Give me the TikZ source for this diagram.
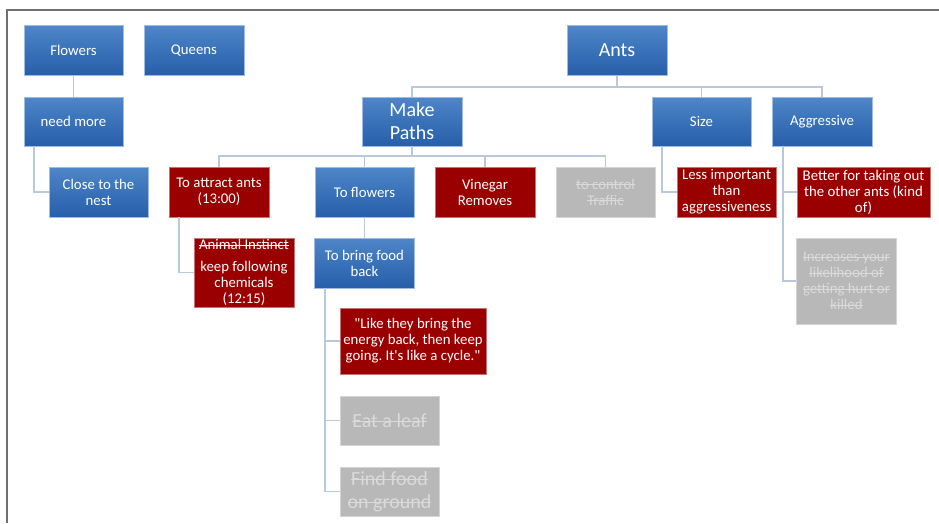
\documentclass[tikz,border=0pt]{standalone}
\usepackage{fontspec}
\setmainfont{Carlito}[Ligatures=TeXOff]
\frenchspacing

% struck-through text
\newsavebox\strkbox
\newcommand\strk[1]{\sbox\strkbox{#1}\rlap{\rule[0.25em]{\wd\strkbox}{0.9pt}}\usebox\strkbox}

\definecolor{bluetop}{RGB}{78,134,200}
\definecolor{bluebot}{RGB}{38,94,170}
\definecolor{redfill}{RGB}{155,0,0}
\definecolor{grayfill}{RGB}{184,184,184}
\definecolor{graytext}{RGB}{218,218,218}
\definecolor{linkcol}{RGB}{184,201,222}
\definecolor{framecol}{RGB}{112,112,112}

\tikzset{
  sz/.style 2 args={minimum width=#1pt, minimum height=#2pt},
  box/.style={rectangle, inner sep=1pt, align=center,
              font=\fontsize{14.8}{16}\selectfont},
  bluebox/.style={box, top color=bluetop, bottom color=bluebot,
                  draw=bluetop!55!white, line width=0.6pt, text=white},
  redbox/.style={box, fill=redfill, draw=redfill!55!white,
                 line width=0.6pt, text=white},
  graybox/.style={box, fill=grayfill, draw=grayfill!60!white,
                  line width=0.6pt, text=graytext},
  bigtext/.style={font=\fontsize{20}{23}\selectfont},
  link/.style={draw=linkcol, line width=1.8pt},
}

\begin{document}
\begin{tikzpicture}[x=1pt, y=-1pt]
  \useasboundingbox (0,0) rectangle (939,523);

  % frame
  \draw[framecol, line width=1.5pt] (7,523) -- (7,10) -- (939,10);

  % boxes
  \node[bluebox, sz={99}{50}] (flowers) at (73.5,50.5) {Flowers};
  \node[bluebox, sz={100}{50}] (queens) at (194,50.5) {Queens};
  \node[bluebox, sz={99}{49}] (needmore) at (73.5,121.5) {need more};
  \node[bluebox, sz={99}{50}] (close) at (98.5,192) {Close to the\\nest};

  \node[bluebox, bigtext, sz={100}{50}] (ants) at (617,50.5) {Ants};
  \node[bluebox, bigtext, sz={100}{49}] (paths) at (412,121.5) {Make\\Paths};
  \node[bluebox, sz={99}{49}] (size) at (701.5,121.5) {Size};
  \node[bluebox, sz={100}{49}] (aggr) at (822,121.5) {Aggressive};

  \node[redbox, sz={100}{50}] (attract) at (219,192) {To attract ants\\(13:00)};
  \node[bluebox, sz={99}{50}] (toflowers) at (364.5,192) {To flowers};
  \node[redbox, sz={100}{50}] (vinegar) at (485,192) {Vinegar\\Removes};
  \node[graybox, sz={99}{50}] (traffic) at (605.5,192) {\strk{to control}\\\strk{Traffic}};
  \node[redbox, sz={99}{50}] (lessimp) at (726.5,192) {Less important\\than\\aggressiveness};
  \node[redbox, sz={133}{50}] (better) at (863.5,192) {Better for taking out\\the other ants (kind\\of)};
  \node[graybox, sz={100}{86}] (increases) at (846.5,281)
    {\strk{Increases your}\\\strk{likelihood of}\\\strk{getting hurt or}\\\strk{killed}};

  \node[redbox, sz={100}{69}] (instinct) at (244,272.5)
    {\strk{Animal Instinct}\\[6pt]keep following\\chemicals\\(12:15)};
  \node[bluebox, sz={100}{50}] (bringfood) at (364.5,263) {To bring food\\back};
  \node[redbox, sz={146}{66}] (quote) at (413,341)
    {"Like they bring the\\energy back, then keep\\going. It's like a cycle."};
  \node[graybox, bigtext, sz={99}{49}] (leaf) at (389.5,420.5) {\strk{Eat a leaf}};
  \node[graybox, bigtext, sz={99}{49}] (findfood) at (389.5,491.5)
    {\strk{Find food}\\\strk{on ground}};

  % connectors
  \draw[link] (flowers.south) -- (needmore.north);
  \draw[link] (needmore.south west) ++(10,0) |- (close.west);

  \draw[link] (ants.south) -- ++(0,11) -| (paths.north);
  \draw[link] (ants.south) -- ++(0,11) -| (size.north);
  \draw[link] (ants.south) -- ++(0,11) -| (aggr.north);

  \draw[link] (paths.south) -- ++(0,10) -| (attract.north);
  \draw[link] (paths.south) -- ++(0,10) -| (toflowers.north);
  \draw[link] (paths.south) -- ++(0,10) -| (vinegar.north);
  \draw[link] (paths.south) -- ++(0,10) -| (traffic.north);

  \draw[link] (size.south west) ++(10,0) |- (lessimp.west);
  \draw[link] (aggr.south west) ++(11,0) |- (better.west);
  \draw[link] (aggr.south west) ++(11,0) |- (increases.west);

  \draw[link] (attract.south west) ++(10,0) |- (instinct.west);
  \draw[link] (toflowers.south) -- (bringfood.north);

  \draw[link] (bringfood.south west) ++(11,0) |- (quote.west);
  \draw[link] (bringfood.south west) ++(11,0) |- (leaf.west);
  \draw[link] (bringfood.south west) ++(11,0) |- (findfood.west);
\end{tikzpicture}
\end{document}
